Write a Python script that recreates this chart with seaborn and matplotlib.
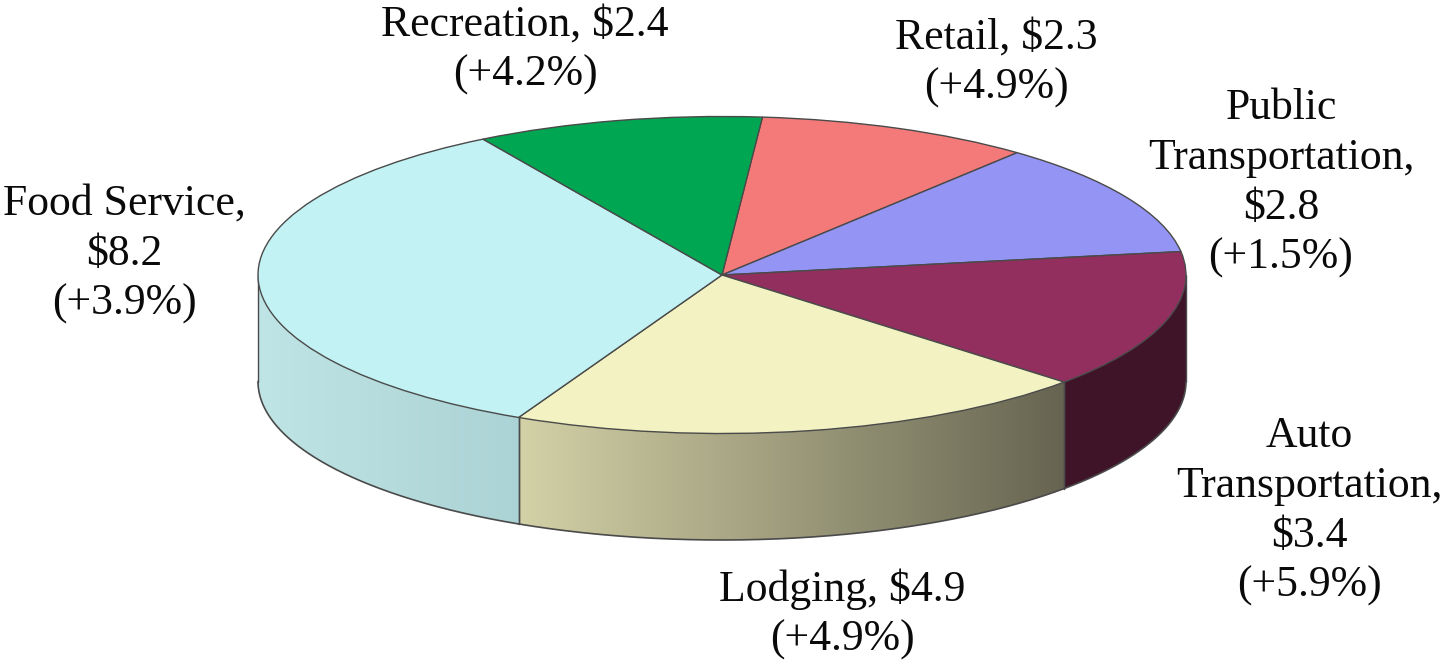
import numpy as np
import matplotlib
matplotlib.use("Agg")
import matplotlib.pyplot as plt
import seaborn as sns

categories = ["Retail", "Public Transportation", "Auto Transportation", "Lodging", "Food Service", "Recreation"]
values = [2.3, 2.8, 3.4, 4.9, 8.2, 2.4]
changes = ["+4.9%", "+1.5%", "+5.9%", "+4.9%", "+3.9%", "+4.2%"]
top_colors = ["#F47A7A", "#9494F5", "#922F5E", "#F3F2C2", "#C2F2F3", "#00A651"]

W, H = 1449, 660
CX, CY, RX, RY, DEPTH = 722, 275, 464, 158.5, 106.5
START = 5.0
EDGE = "#4a4a4a"

# side shading: colour at the left and right end of every visible side facet
side_shades = {
    "Auto Transportation": ("#3F1428", "#3F1428"),
    "Lodging": ("#D3D1A6", "#666450"),
    "Food Service": ("#BFE4E5", "#ABD2D4"),
}
labels = {
    "Recreation": ("Recreation, $2.4\n(+4.2%)", 525, 50),
    "Retail": ("Retail, $2.3\n(+4.9%)", 996, 63),
    "Public Transportation": ("Public\nTransportation,\n$2.8\n(+1.5%)", 1281, 183),
    "Auto Transportation": ("Auto\nTransportation,\n$3.4\n(+5.9%)", 1309, 511),
    "Lodging": ("Lodging, $4.9\n(+4.9%)", 842, 614),
    "Food Service": ("Food Service,\n$8.2\n(+3.9%)", 124, 254),
}

sns.set_theme(style="white")
plt.rcParams["font.family"] = ["Liberation Serif", "DejaVu Serif"]
palette = sns.color_palette(top_colors)

fig = plt.figure(figsize=(W / 100, H / 100), dpi=100, facecolor="white")
ax = fig.add_axes([0, 0, 1, 1])

ax.pie(values, colors=palette, startangle=90 - START, counterclock=False,
       radius=1, wedgeprops=dict(edgecolor=EDGE, linewidth=1.0, zorder=5))
ax.set_aspect("auto")
ax.set_xlim(-CX / RX, (W - CX) / RX)
ax.set_ylim((CY - H) / RY, CY / RY)
ax.axis("off")

depth = DEPTH / RY
edges = START + np.cumsum([0] + values) / np.sum(values) * 360
for name, a0, a1 in zip(categories, edges[:-1], edges[1:]):
    lo, hi = max(a0, 90), min(a1, 270)
    if lo >= hi or name not in side_shades:
        continue
    t = np.radians(np.linspace(lo, hi, 300))
    x, y = np.sin(t), np.cos(t)
    X = np.vstack([x, x])
    Y = np.vstack([y, y - depth])
    c0, c1 = (np.array(matplotlib.colors.to_rgb(c)) for c in side_shades[name])
    xm = (x[:-1] + x[1:]) / 2
    f = (xm - x.min()) / (x.max() - x.min())
    rgb = c0[None, :] * (1 - f[:, None]) + c1[None, :] * f[:, None]
    ax.pcolormesh(X, Y, rgb[None, :, :], shading="flat", antialiased=False,
                  linewidth=0, rasterized=False, zorder=2)
    ax.plot(x, y - depth, color=EDGE, lw=1.2, zorder=3, solid_capstyle="round")
    for xe, ye in ((x[0], y[0]), (x[-1], y[-1])):
        ax.plot([xe, xe], [ye, ye - depth], color=EDGE, lw=1.0, zorder=3,
                solid_capstyle="round")

for text, px, py in labels.values():
    fig.text(px / W, 1 - py / H, text, ha="center", va="center", fontsize=31.5,
             linespacing=1.32, color="#0a0a0a")

fig.savefig("out.png", dpi=100, facecolor="white")
